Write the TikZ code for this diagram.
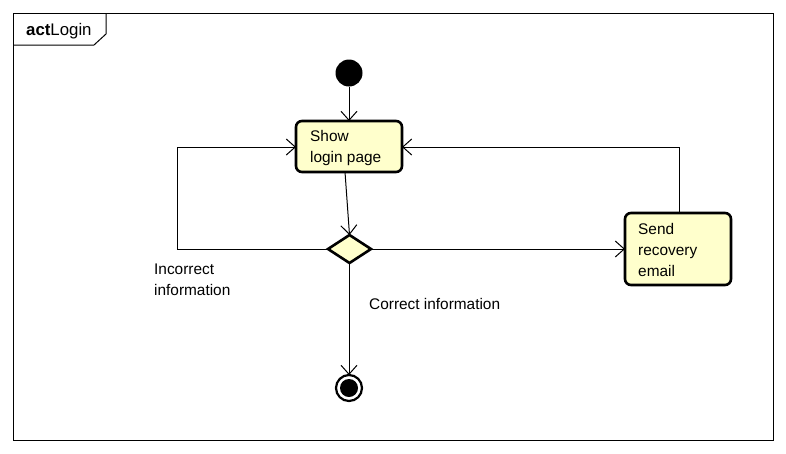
\documentclass[tikz,border=0pt]{standalone}
\usepackage{fontspec}
\setmainfont{Liberation Sans}
\usetikzlibrary{arrows.meta,shapes.geometric}
\definecolor{actfill}{HTML}{FFFFCC}
\tikzset{
  actbox/.style={draw=black,line width=2.6pt,fill=actfill,rounded corners=6pt,anchor=north west,inner sep=0pt},
  flow/.style={draw=black,line width=1pt,-{Straight Barb[length=9pt,width=16pt,line width=1pt]}},
  plain/.style={draw=black,line width=1pt},
  txt/.style={font=\fontsize{15.4}{21}\selectfont,align=left,inner sep=0pt},
}
\begin{document}
\begin{tikzpicture}[x=1pt,y=-1pt]
\useasboundingbox (0,0) rectangle (786,453);
\fill[white] (0,0) rectangle (786,453);
% frame
\draw[line width=1pt] (13,13) rectangle (773,440);
\draw[line width=1pt] (13,45) -- (94,45) -- (106,34) -- (106,13);
\node[txt,anchor=west,font=\fontsize{16.8}{20}\selectfont] (title) at (26,31) {\textbf{act}Login};
% initial
\node[circle,fill=black,minimum size=27pt,inner sep=0pt] (init) at (349,73) {};
% show login page
\path[actbox] (296,121) rectangle (402,172);
\node[txt,anchor=north west] (showtxt) at (310,130.5) {Show\\login page};
\coordinate (showtop) at (349,121);
\coordinate (showbot) at (345,172);
\coordinate (showleft) at (296,147);
\coordinate (showright) at (402,147);
% diamond
\path[draw=black,line width=2.6pt,fill=actfill] (328,249) -- (349.5,235) -- (371,249) -- (349.5,263) -- cycle;
\coordinate (dtop) at (349.5,235);
\coordinate (dleft) at (328,249);
\coordinate (dright) at (371,249);
\coordinate (dbot) at (349,263);
% send recovery email
\path[actbox] (625,213) rectangle (731,285);
\node[txt,anchor=north west] (sendtxt) at (638,223.5) {Send\\recovery\\email};
\coordinate (sendleft) at (625,249);
\coordinate (sendtop) at (679,213);
% final
\node[circle,draw=black,line width=2.2pt,fill=white,minimum size=26pt,inner sep=0pt] (final) at (349,388) {};
\node[circle,fill=black,minimum size=18pt,inner sep=0pt] (finalin) at (349,388) {};
\coordinate (finaltop) at (349,375);
% connectors
\draw[flow] (init.south) -- (showtop);
\draw[flow] (showbot) -- (dtop);
\draw[flow] (dleft) -- (177,249) -- (177,147) -- (showleft);
\draw[flow] (dright) -- (sendleft);
\draw[flow] (sendtop) -- (679,147) -- (showright);
\draw[flow] (dbot) -- (finaltop);
% labels
\node[txt,anchor=north west] (inc) at (154,263.5) {Incorrect\\information};
\node[txt,anchor=north west] (cor) at (369,298.5) {Correct information};
\end{tikzpicture}
\end{document}
